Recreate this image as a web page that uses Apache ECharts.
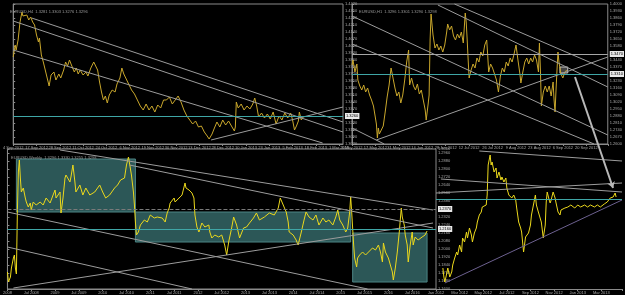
<!DOCTYPE html>
<html>
<head>
<meta charset="utf-8">
<script src="https://cdn.jsdelivr.net/npm/echarts@6/dist/echarts.min.js"></script>
<style>
html, body { margin: 0; background: #000; }
#main { width: 625px; height: 295px; }
</style>
</head>
<body>
<div id="main"></div>
<script>
// price paths, [bar, price]
var p1Price = [[0,1.389],[2,1.401],[3,1.396],[5,1.406],[7,1.424],[9,1.434],[10,1.430],[12,1.428],[14,1.431],[16,1.426],[18,1.429],[20,1.424],[22,1.421],[24,1.411],[26,1.404],[27,1.408],[29,1.391],[31,1.384],[33,1.376],[35,1.368],[37,1.360],[39,1.371],[42,1.374],[44,1.366],[47,1.372],[49,1.368],[52,1.376],[54,1.384],[56,1.380],[58,1.386],[60,1.381],[63,1.374],[65,1.378],[67,1.372],[69,1.376],[72,1.371],[75,1.374],[77,1.370],[80,1.378],[83,1.384],[85,1.382],[87,1.376],[89,1.364],[91,1.354],[93,1.346],[95,1.350],[97,1.343],[99,1.351],[102,1.356],[105,1.354],[107,1.362],[110,1.368],[112,1.378],[114,1.372],[117,1.366],[120,1.360],[122,1.356],[125,1.352],[128,1.346],[131,1.340],[134,1.336],[137,1.342],[140,1.336],[143,1.340],[146,1.334],[149,1.341],[152,1.338],[155,1.346],[158,1.346],[161,1.349],[164,1.342],[167,1.346],[170,1.350],[173,1.344],[176,1.336],[179,1.330],[182,1.326],[185,1.322],[188,1.325],[191,1.319],[194,1.320],[197,1.314],[200,1.310],[202,1.307],[205,1.312],[207,1.317],[210,1.324],[213,1.319],[216,1.326],[219,1.321],[222,1.325],[225,1.320],[228,1.315],[229,1.319],[230,1.344],[232,1.338],[235,1.342],[238,1.336],[241,1.340],[244,1.337],[247,1.342],[249,1.348],[251,1.340],[253,1.329],[256,1.333],[259,1.328],[262,1.332],[265,1.327],[268,1.334],[271,1.322],[274,1.330],[277,1.326],[280,1.333],[283,1.328],[286,1.333],[288,1.326],[290,1.316],[292,1.320],[294,1.325],[295,1.334],[297,1.326],[299,1.329]];

var p2Price = [[0,1.339],[1,1.344],[3,1.332],[5,1.340],[6,1.324],[8,1.318],[10,1.314],[12,1.319],[14,1.312],[16,1.316],[18,1.309],[20,1.304],[22,1.298],[23,1.292],[24,1.286],[25,1.280],[26,1.266],[27,1.276],[28,1.270],[30,1.274],[32,1.278],[34,1.292],[36,1.307],[38,1.319],[40,1.336],[42,1.326],[44,1.316],[46,1.308],[48,1.312],[50,1.301],[52,1.309],[54,1.324],[56,1.342],[58,1.354],[59,1.319],[61,1.326],[63,1.318],[65,1.314],[67,1.320],[69,1.310],[71,1.314],[73,1.304],[75,1.294],[76,1.284],[78,1.300],[79,1.309],[80,1.364],[81,1.390],[82,1.379],[83,1.369],[85,1.356],[87,1.360],[89,1.354],[91,1.358],[93,1.352],[95,1.359],[97,1.372],[98,1.380],[100,1.374],[102,1.378],[104,1.368],[106,1.364],[108,1.370],[110,1.366],[112,1.372],[114,1.361],[115,1.376],[116,1.391],[117,1.382],[118,1.364],[119,1.344],[120,1.326],[122,1.334],[124,1.340],[126,1.336],[128,1.346],[130,1.342],[132,1.352],[134,1.348],[136,1.359],[138,1.364],[139,1.349],[140,1.332],[142,1.340],[144,1.336],[146,1.330],[148,1.324],[150,1.312],[152,1.328],[154,1.336],[156,1.332],[158,1.342],[160,1.338],[162,1.346],[164,1.342],[166,1.350],[168,1.359],[170,1.344],[172,1.330],[173,1.321],[175,1.332],[177,1.342],[179,1.346],[181,1.340],[183,1.346],[185,1.342],[187,1.349],[189,1.344],[191,1.332],[192,1.361],[193,1.334],[194,1.298],[196,1.312],[198,1.318],[200,1.312],[202,1.318],[204,1.308],[206,1.322],[207,1.304],[208,1.292],[209,1.314],[210,1.334],[211,1.352],[212,1.342],[214,1.330],[216,1.326],[218,1.332],[220,1.334]];

var p3Price = [[0,1.177],[1,1.167],[3,1.172],[4,1.181],[6,1.191],[7,1.194],[8,1.181],[9,1.175],[10,1.237],[11,1.277],[12,1.289],[13,1.271],[14,1.257],[16,1.261],[18,1.251],[19,1.247],[21,1.242],[23,1.246],[24,1.239],[26,1.247],[29,1.244],[33,1.247],[36,1.244],[39,1.251],[43,1.246],[46,1.254],[48,1.259],[49,1.251],[53,1.257],[54,1.236],[56,1.251],[58,1.271],[59,1.274],[63,1.267],[64,1.272],[66,1.284],[68,1.267],[69,1.257],[73,1.264],[76,1.254],[79,1.261],[83,1.254],[88,1.257],[93,1.264],[96,1.257],[99,1.251],[103,1.254],[108,1.261],[111,1.264],[114,1.269],[118,1.271],[120,1.284],[122,1.292],[123,1.286],[125,1.274],[127,1.257],[128,1.244],[129,1.227],[130,1.214],[132,1.217],[134,1.224],[138,1.229],[141,1.227],[144,1.234],[148,1.231],[151,1.232],[156,1.231],[159,1.227],[161,1.236],[163,1.241],[164,1.246],[168,1.251],[169,1.247],[173,1.251],[176,1.254],[179,1.266],[180,1.261],[183,1.259],[186,1.256],[188,1.251],[189,1.234],[191,1.222],[193,1.217],[196,1.226],[199,1.222],[203,1.224],[204,1.217],[206,1.211],[209,1.214],[213,1.212],[216,1.214],[219,1.204],[221,1.194],[223,1.207],[226,1.221],[228,1.232],[229,1.234],[231,1.224],[234,1.211],[238,1.221],[241,1.222],[244,1.226],[248,1.231],[251,1.236],[254,1.229],[259,1.232],[264,1.236],[269,1.234],[273,1.241],[275,1.251],[278,1.244],[279,1.246],[281,1.237],[283,1.227],[284,1.217],[288,1.214],[291,1.209],[293,1.204],[296,1.216],[299,1.229],[301,1.237],[304,1.232],[308,1.229],[311,1.234],[314,1.224],[318,1.231],[321,1.227],[324,1.229],[328,1.224],[331,1.232],[333,1.239],[335,1.229],[338,1.224],[341,1.217],[343,1.221],[345,1.237],[346,1.252],[347,1.237],[349,1.204],[350,1.191],[352,1.182],[353,1.191],[355,1.194],[358,1.197],[361,1.194],[364,1.197],[368,1.201],[371,1.199],[374,1.204],[376,1.197],[378,1.187],[379,1.206],[381,1.197],[384,1.191],[388,1.177],[389,1.169],[391,1.181],[393,1.197],[395,1.217],[397,1.241],[398,1.232],[400,1.224],[401,1.214],[403,1.204],[404,1.187],[406,1.204],[408,1.217],[409,1.204],[411,1.212],[414,1.209],[418,1.212],[421,1.214],[423,1.218]];

var p4Price = [[7,1.281],[8,1.272],[9,1.267],[11,1.276],[12,1.281],[14,1.272],[16,1.277],[17,1.284],[19,1.291],[21,1.297],[22,1.294],[24,1.304],[26,1.297],[27,1.311],[29,1.307],[31,1.317],[32,1.311],[34,1.321],[36,1.314],[37,1.307],[39,1.316],[41,1.321],[42,1.327],[44,1.334],[46,1.337],[47,1.342],[49,1.341],[51,1.344],[52,1.354],[53,1.384],[55,1.394],[56,1.384],[57,1.387],[59,1.377],[61,1.381],[62,1.371],[64,1.377],[66,1.369],[67,1.372],[69,1.367],[71,1.371],[72,1.361],[74,1.354],[76,1.356],[77,1.351],[79,1.354],[81,1.349],[82,1.341],[84,1.327],[86,1.321],[87,1.317],[89,1.297],[91,1.312],[92,1.314],[94,1.316],[96,1.324],[97,1.334],[99,1.344],[101,1.354],[102,1.344],[104,1.337],[106,1.339],[107,1.327],[109,1.311],[111,1.324],[112,1.347],[113,1.357],[115,1.349],[116,1.346],[117,1.349],[119,1.357],[121,1.351],[122,1.346],[124,1.337],[126,1.334],[127,1.339],[131,1.341],[134,1.342],[137,1.344],[141,1.341],[144,1.344],[147,1.342],[151,1.344],[154,1.342],[157,1.344],[161,1.342],[164,1.344],[167,1.342],[171,1.345],[174,1.347],[177,1.351],[180,1.352],[182,1.356],[183,1.352]];

// drawn objects
var p1Trends = [[[19,1.428],[340,1.324]], [[0,1.425],[340,1.314]], [[0,1.396],[319,1.303]], [[204,1.306],[340,1.339]]];
var p1Levels = [1.331, 1.326];
var p2Trends = [[[105,1.400],[262,1.334]], [[88,1.399],[262,1.317]], [[0,1.388],[262,1.269]], [[0,1.360],[248,1.260]], [[0,1.276],[33,1.260]], [[25,1.264],[262,1.347]]];
var p2Levels = [1.347, 1.331];
var p2Box = [[213,1.337],[221,1.331]];
var p3Trends = [[[53,1.299],[429,1.239]], [[123,1.284],[429,1.221]], [[0,1.237],[363,1.160]], [[0,1.202],[186,1.160]], [[6,1.161],[429,1.226]]];
var p3Levels = [1.237, 1.216];
var p3Boxes = [[[9,1.290],[129,1.237]], [[129,1.237],[346,1.207]], [[348,1.216],[423,1.167]]];
var p4Trends = [[[44,1.398],[189,1.388]], [[5,1.370],[189,1.357]], [[0,1.356],[189,1.366]]];
var p4Support = [[9,1.266],[189,1.349]];
var p4Levels = [1.351];
var arrowPath = [[575,77],[613,188]];

// time scale labels
var p1Dates = ['4 Sep 2012','17 Sep 2012','28 Sep 2012','11 Oct 2012','24 Oct 2012','6 Nov 2012','19 Nov 2012','30 Nov 2012','13 Dec 2012','28 Dec 2012','10 Jan 2013','23 Jan 2013','5 Feb 2013','18 Feb 2013','1 Mar 2013'];
var p2Dates = ['3 May 2012','17 May 2012','31 May 2012','14 Jun 2012','28 Jun 2012','12 Jul 2012','26 Jul 2012','9 Aug 2012','23 Aug 2012','6 Sep 2012','20 Sep 2012'];
var p3Dates = ['2008','Jul 2008','2009','Jul 2009','2010','Jul 2010','2011','Jul 2011','2012','Jul 2012','2013','Jul 2013','2014','Jul 2014','2015','Jul 2015','2016','Jul 2016'];
var p4Dates = ['Jan 2012','Mar 2012','May 2012','Jul 2012','Sep 2012','Nov 2012','Jan 2013','Mar 2013'];

var myChart = echarts.init(document.getElementById('main'));

var gold = '#c9a72c', yellow = '#ecd91c', trendCol = '#9c9c9c', cyan = '#3fa6a6';

function trendItems(list, color) {
    return list.map(function (t) {
        return [{coord: t[0], lineStyle: {color: color || trendCol, width: 1, type: 'solid'}}, {coord: t[1]}];
    });
}
function levelItems(levels, colors, dashed) {
    return levels.map(function (v, i) {
        return {
            yAxis: v,
            lineStyle: {color: colors[i], width: 1, type: dashed && dashed[i] ? 'dashed' : 'solid'},
            label: {show: true, position: 'end', formatter: v.toFixed(4), fontSize: 4, color: '#000',
                backgroundColor: '#e8e8e8', padding: [1, 1], distance: 2}
        };
    });
}
function xAx(gi, max, dates, show) {
    return {
        type: 'value', gridIndex: gi, min: 0, max: max, interval: 24,
        axisLine: {show: show, lineStyle: {color: '#8a8a8a'}},
        axisTick: {show: show, length: 2, lineStyle: {color: '#8a8a8a'}},
        splitLine: {show: false},
        axisLabel: {show: show, fontSize: 4, color: '#a8a8a8', margin: 2,
            formatter: function (v) { return dates[Math.round(v / 24)] || ''; }}
    };
}
function yAx(gi, min, max, step, show) {
    return {
        type: 'value', gridIndex: gi, position: 'right', min: min, max: max, interval: step,
        axisLine: {show: show, lineStyle: {color: '#8a8a8a'}},
        axisTick: {show: show, length: 2, lineStyle: {color: '#8a8a8a'}},
        splitLine: {show: false},
        axisLabel: {show: show, fontSize: 4, color: '#a8a8a8', margin: 2,
            formatter: function (v) { return v.toFixed(4); }}
    };
}
function priceSeries(i, data, color, trends, levels, levelColors, dashed) {
    var lines = trendItems(trends).concat(levelItems(levels, levelColors, dashed));
    return {
        type: 'line', xAxisIndex: i, yAxisIndex: i, data: data, showSymbol: false, z: 3,
        lineStyle: {color: color, width: 1}, itemStyle: {color: color},
        markLine: {silent: true, symbol: ['none', 'none'], label: {show: false}, data: lines}
    };
}

option = {
    backgroundColor: '#000',
    animation: false,
    title: [
        {text: 'EURUSD,H4  1.3281 1.3303 1.3276 1.3296', left: 5, top: 5, textStyle: {fontSize: 4, color: '#9a9a9a', fontWeight: 'normal'}},
        {text: 'EURUSD,H1  1.3296 1.3301 1.3290 1.3298', left: 354, top: 5, textStyle: {fontSize: 4, color: '#9a9a9a', fontWeight: 'normal'}},
        {text: 'EURUSD,Weekly  1.3296 1.3330 1.3255 1.3298', left: 6, top: 151, textStyle: {fontSize: 4, color: '#9a9a9a', fontWeight: 'normal'}}
    ],
    grid: [
        {left: 3, top: 4, width: 340, height: 140, show: true, borderColor: '#8a8a8a', borderWidth: 1},
        {left: 352, top: 4, width: 262, height: 140, show: true, borderColor: '#8a8a8a', borderWidth: 1},
        {left: 4, top: 149, width: 432, height: 140, show: true, borderColor: '#8a8a8a', borderWidth: 1},
        {left: 436, top: 149, width: 189, height: 140},
        {left: 0, top: 0, width: 625, height: 295}
    ],
    xAxis: [
        xAx(0, 340, p1Dates, true), xAx(1, 262, p2Dates, true), xAx(2, 432, p3Dates, true), xAx(3, 189, p4Dates, true),
        {type: 'value', gridIndex: 4, min: 0, max: 625, show: false}
    ],
    yAxis: [
        yAx(0, 1.302, 1.442, 0.007, true), yAx(1, 1.260, 1.400, 0.007, true), yAx(2, 1.160, 1.300, 0.008, true), yAx(3, 1.260, 1.400, 0.008, false),
        {type: 'value', gridIndex: 4, min: 0, max: 295, inverse: true, show: false}
    ],
    series: [
        {
            type: 'line', xAxisIndex: 2, yAxisIndex: 2, data: [], z: 1,
            markArea: {silent: true, itemStyle: {color: '#2c5757', borderColor: '#4d8585', borderWidth: 1},
                data: p3Boxes.map(function (b) { return [{coord: b[0]}, {coord: b[1]}]; })}
        },
        {
            type: 'line', xAxisIndex: 1, yAxisIndex: 1, data: [], z: 4,
            markArea: {silent: true, itemStyle: {color: 'rgba(150,150,150,0.45)', borderColor: '#c8c8c8', borderWidth: 1},
                data: [[{coord: p2Box[0]}, {coord: p2Box[1]}]]}
        },
        priceSeries(0, p1Price, gold, p1Trends, p1Levels, ['#a6a6a6', cyan]),
        priceSeries(1, p2Price, gold, p2Trends, p2Levels, ['#a6a6a6', cyan]),
        priceSeries(2, p3Price, yellow, p3Trends, p3Levels, ['#7a7a7a', cyan], [true, false]),
        {
            type: 'line', xAxisIndex: 3, yAxisIndex: 3, data: p4Price, showSymbol: false, z: 3,
            lineStyle: {color: yellow, width: 1}, itemStyle: {color: yellow},
            markLine: {silent: true, symbol: ['none', 'none'], label: {show: false},
                data: trendItems(p4Trends).concat(trendItems([p4Support], '#6d6190')).concat(
                    p4Levels.map(function (v) { return {yAxis: v, lineStyle: {color: cyan, width: 1, type: 'solid'}}; }))}
        },
        {
            type: 'lines', coordinateSystem: 'cartesian2d', xAxisIndex: 4, yAxisIndex: 4, z: 6,
            symbol: ['none', 'arrow'], symbolSize: 6,
            lineStyle: {color: '#b8b8b8', width: 2, opacity: 1},
            data: [{coords: arrowPath}]
        }
    ]
};

myChart.setOption(option);
</script>
</body>
</html>
